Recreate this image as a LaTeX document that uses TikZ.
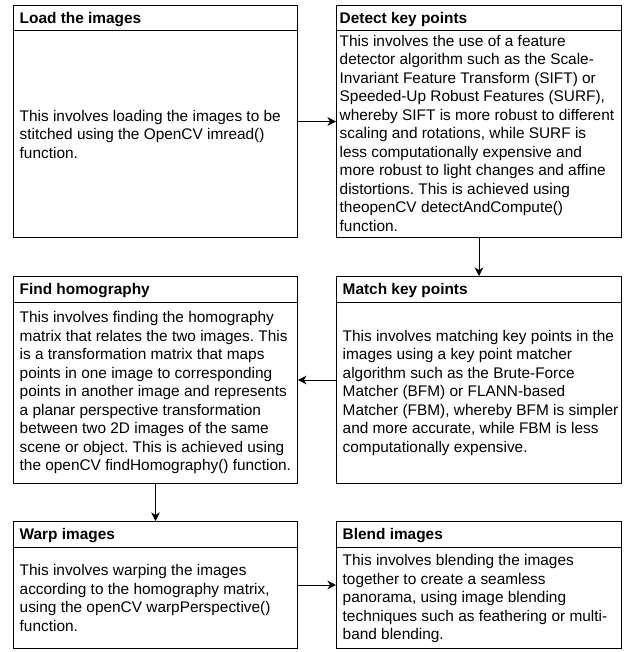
\documentclass[tikz,border=0pt]{standalone}
\usepackage{fontspec}
\setmainfont{Liberation Sans}
\usetikzlibrary{arrows.meta}
\frenchspacing

\begin{document}
\begin{tikzpicture}[x=1pt,y=-1pt,
  box/.style={draw=black, line width=1pt, rectangle, inner sep=0pt, anchor=north west},
  rule/.style={draw=black, line width=1pt},
  title/.style={anchor=base west, inner sep=0pt, font=\fontsize{15.4}{18.5}\selectfont\bfseries},
  body/.style={anchor=west, inner sep=0pt, align=left, font=\fontsize{15.4}{18.5}\selectfont},
  flow/.style={draw=black, line width=1pt, -{Stealth[length=8.5pt,width=8.5pt,inset=2.5pt]}}]

\useasboundingbox (0,0) rectangle (629,652);

% ---- row 1 ----
\node[box, minimum width=284pt, minimum height=232pt] (load) at (13,5) {};
\draw[rule] ([yshift=-26pt]load.north west) -- ([yshift=-26pt]load.north east);
\node[title] (loadT) at ([xshift=6.5pt,yshift=-18.5pt]load.north west) {Load the images};
\node[body] (loadB) at (19.5,134) {This involves loading the images to be\\
stitched using the OpenCV imread()\\
function.};

\node[box, minimum width=285pt, minimum height=232pt] (detect) at (336,5) {};
\draw[rule] ([yshift=-26pt]detect.north west) -- ([yshift=-26pt]detect.north east);
\node[title] (detectT) at ([xshift=3.5pt,yshift=-18.5pt]detect.north west) {Detect key points};
\node[body] (detectB) at (339.5,133) {This involves the use of a feature\\
detector algorithm such as the Scale-\\
Invariant Feature Transform (SIFT) or\\
Speeded-Up Robust Features (SURF),\\
whereby SIFT is more robust to different\\
scaling and rotations, while SURF is\\
less computationally expensive and\\
more robust to light changes and affine\\
distortions. This is achieved using\\
theopenCV detectAndCompute()\\
function.};

% ---- row 2 ----
\node[box, minimum width=284pt, minimum height=207pt] (find) at (13,276) {};
\draw[rule] ([yshift=-26pt]find.north west) -- ([yshift=-26pt]find.north east);
\node[title] (findT) at ([xshift=6.5pt,yshift=-18.5pt]find.north west) {Find homography};
\node[body] (findB) at (19.5,393) {This involves finding the homography\\
matrix that relates the two images. This\\
is a transformation matrix that maps\\
points in one image to corresponding\\
points in another image and represents\\
a planar perspective transformation\\
between two 2D images of the same\\
scene or object. This is achieved using\\
the openCV findHomography() function.};

\node[box, minimum width=285pt, minimum height=207pt] (match) at (336,276) {};
\draw[rule] ([yshift=-26pt]match.north west) -- ([yshift=-26pt]match.north east);
\node[title] (matchT) at ([xshift=6.5pt,yshift=-18.5pt]match.north west) {Match key points};
\node[body] (matchB) at (342.5,393) {This involves matching key points in the\\
images using a key point matcher\\
algorithm such as the Brute-Force\\
Matcher (BFM) or FLANN-based\\
Matcher (FBM), whereby BFM is simpler\\
and more accurate, while FBM is less\\
computationally expensive.};

% ---- row 3 ----
\node[box, minimum width=284pt, minimum height=127pt] (warp) at (13,521) {};
\draw[rule] ([yshift=-26pt]warp.north west) -- ([yshift=-26pt]warp.north east);
\node[title] (warpT) at ([xshift=6.5pt,yshift=-18.5pt]warp.north west) {Warp images};
\node[body] (warpB) at (19.5,598) {This involves warping the images\\
according to the homography matrix,\\
using the openCV warpPerspective()\\
function.};

\node[box, minimum width=285pt, minimum height=127pt] (blend) at (336,521) {};
\draw[rule] ([yshift=-26pt]blend.north west) -- ([yshift=-26pt]blend.north east);
\node[title] (blendT) at ([xshift=6.5pt,yshift=-18.5pt]blend.north west) {Blend images};
\node[body] (blendB) at (342.5,599) {This involves blending the images\\
together to create a seamless\\
panorama, using image blending\\
techniques such as feathering or multi-\\
band blending.};

% ---- connectors ----
\draw[flow] (load) -- (detect);
\draw[flow] (detect) -- (match);
\draw[flow] (match) -- (find);
\draw[flow] (find) -- (warp);
\draw[flow] (warp) -- (blend);
\end{tikzpicture}
\end{document}
